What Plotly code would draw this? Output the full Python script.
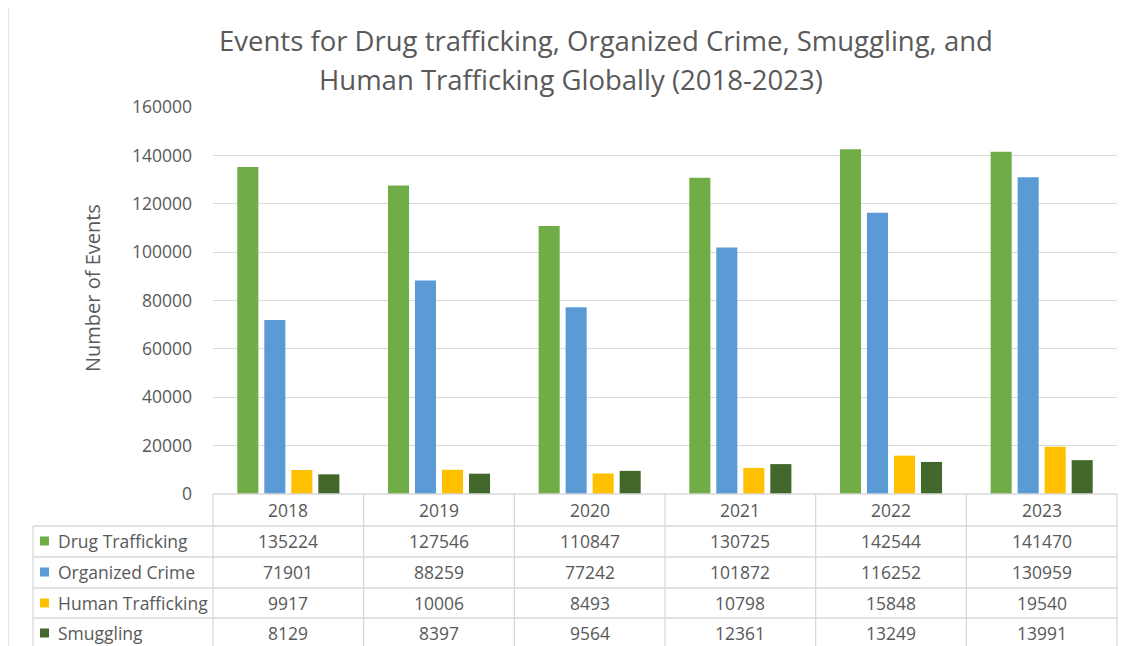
import plotly.graph_objects as go

years = ["2018", "2019", "2020", "2021", "2022", "2023"]
series_names = ["Drug Trafficking", "Organized Crime", "Human Trafficking", "Smuggling"]
drug_trafficking = [135224, 127546, 110847, 130725, 142544, 141470]
organized_crime = [71901, 88259, 77242, 101872, 116252, 130959]
human_trafficking = [9917, 10006, 8493, 10798, 15848, 19540]
smuggling = [8129, 8397, 9564, 12361, 13249, 13991]
series_values = [drug_trafficking, organized_crime, human_trafficking, smuggling]
colors = ["#70AD47", "#5B9BD5", "#FFC000", "#43682B"]
y_ticks = [0, 20000, 40000, 60000, 80000, 100000, 120000, 140000, 160000]
title_lines = ["Events for Drug trafficking, Organized Crime, Smuggling, and",
               "Human Trafficking Globally (2018-2023)"]

W, H = 1127, 646
OFF = 8  # page body margin offset
L, R, T, B = 213 - OFF, 1117 - OFF, 107 - OFF, 494 - OFF
FONT = "Open Sans"
TXT = "#595959"
GRID = "#D9D9D9"
FS = 17.5


def px(x):
    # x given in reference-image pixels
    return (x - OFF - L) / (R - L)


def py(y):
    return (B - (y - OFF)) / (B - T)


fig = go.Figure()
for name, vals, c in zip(series_names, series_values, colors):
    fig.add_trace(go.Bar(x=years, y=vals, name=name, marker=dict(color=c, line=dict(width=0))))

fig.update_layout(
    width=W, height=H,
    margin=dict(l=L, r=W - R, t=T, b=H - B, pad=0),
    paper_bgcolor="white", plot_bgcolor="white",
    barmode="group", bargap=0.283, bargroupgap=0.22,
    showlegend=False,
    font=dict(family=FONT, color=TXT, size=FS),
)
fig.update_xaxes(showticklabels=False, showgrid=False, zeroline=False,
                 showline=False, ticks="")
fig.update_yaxes(range=[0, 160000], tickvals=y_ticks, tickformat="d", showgrid=True,
                 gridcolor=GRID, gridwidth=1, zeroline=False, showline=False, ticks="",
                 ticklabelstandoff=20, tickfont=dict(size=FS, color=TXT))

shapes = []
ann = []

# outer frame
shapes.append(dict(type="rect", xref="paper", yref="paper", x0=px(8), x1=px(1145),
                   y0=py(670), y1=py(7), line=dict(color="#D9D9D9", width=1.2),
                   fillcolor="rgba(0,0,0,0)", layer="below"))

# title
for line, xc, yc in zip(title_lines, [606, 571], [41, 79]):
    ann.append(dict(text=line, xref="paper", yref="paper", x=px(xc),
                    y=py(yc), xanchor="center", yanchor="middle", showarrow=False,
                    font=dict(size=27.5, color=TXT, family=FONT)))

# y axis title
ann.append(dict(text="Number of Events", xref="paper", yref="paper", x=px(92), y=py(288),
                textangle=-90, xanchor="center", yanchor="middle", showarrow=False,
                font=dict(size=20, color=TXT, family=FONT)))

# data table
col_edges = [213 + (1117 - 213) * i / len(years) for i in range(len(years) + 1)]
row_lines = [494, 526, 557, 588, 618, 649]
line_style = dict(color="#D9D9D9", width=1.3)
for i, yl in enumerate(row_lines):
    x0 = 213 if i == 0 else 33
    shapes.append(dict(type="line", xref="paper", yref="paper", x0=px(x0), x1=px(1117),
                       y0=py(yl), y1=py(yl), line=line_style))
for xe in col_edges:
    shapes.append(dict(type="line", xref="paper", yref="paper", x0=px(xe), x1=px(xe),
                       y0=py(494), y1=py(670), line=line_style))
shapes.append(dict(type="line", xref="paper", yref="paper", x0=px(33), x1=px(33),
                   y0=py(526), y1=py(670), line=line_style))

row_centers = [510, 541, 572, 603, 633]
col_centers = [(col_edges[i] + col_edges[i + 1]) / 2 for i in range(len(years))]
for j, yr in enumerate(years):
    ann.append(dict(text=yr, xref="paper", yref="paper", x=px(col_centers[j]),
                    y=py(row_centers[0]), xanchor="center", yanchor="middle",
                    showarrow=False, font=dict(size=FS, color=TXT, family=FONT)))
for i, (name, vals, c) in enumerate(zip(series_names, series_values, colors)):
    yc = row_centers[i + 1]
    shapes.append(dict(type="rect", xref="paper", yref="paper", x0=px(40), x1=px(49),
                       y0=py(yc + 4.5), y1=py(yc - 4.5), fillcolor=c, line=dict(width=0)))
    ann.append(dict(text=name, xref="paper", yref="paper", x=px(56), y=py(yc),
                    xanchor="left", yanchor="middle", showarrow=False,
                    font=dict(size=FS, color=TXT, family=FONT)))
    for j, v in enumerate(vals):
        ann.append(dict(text=str(v), xref="paper", yref="paper", x=px(col_centers[j]),
                        y=py(yc), xanchor="center", yanchor="middle", showarrow=False,
                        font=dict(size=FS, color=TXT, family=FONT)))

fig.update_layout(shapes=shapes, annotations=ann)
fig.write_html("out.html")
